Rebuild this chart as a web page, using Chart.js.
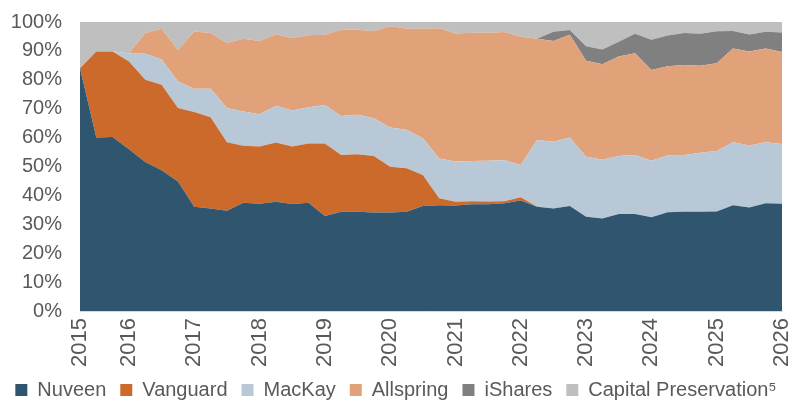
<!DOCTYPE html>
<html>
<head>
<meta charset="utf-8">
<script src="https://cdn.jsdelivr.net/npm/chart.js@4.4.1/dist/chart.umd.min.js"></script>
<style>
  html, body { margin: 0; padding: 0; background: #ffffff; }
  #wrap { width: 792px; height: 400px; position: relative; }
</style>
</head>
<body>
<div id="wrap"><canvas id="c" width="792" height="400"></canvas></div>
<script>
// Quarter-end categories
const quarters = [
  'Q1 2015','Q2 2015','Q3 2015','Q4 2015',
  'Q1 2016','Q2 2016','Q3 2016','Q4 2016',
  'Q1 2017','Q2 2017','Q3 2017','Q4 2017',
  'Q1 2018','Q2 2018','Q3 2018','Q4 2018',
  'Q1 2019','Q2 2019','Q3 2019','Q4 2019',
  'Q1 2020','Q2 2020','Q3 2020','Q4 2020',
  'Q1 2021','Q2 2021','Q3 2021','Q4 2021',
  'Q1 2022','Q2 2022','Q3 2022','Q4 2022',
  'Q1 2023','Q2 2023','Q3 2023','Q4 2023',
  'Q1 2024','Q2 2024','Q3 2024','Q4 2024',
  'Q1 2025','Q2 2025','Q3 2025','Q4 2025'
];
// Year tick labels and the category index where each is shown
const yearTicks = ['2015','2016','2017','2018','2019','2020','2021','2022','2023','2024','2025','2026'];
const yearTickIndex = [0,3,7,11,15,19,23,27,31,35,39,43];

// Shares (%) per manager
const nuveen = [84.0,60.0,60.2,56.0,51.6,48.7,44.8,36.1,35.5,34.7,37.5,37.1,37.8,37.0,37.5,32.9,34.3,34.3,34.1,34.1,34.3,36.3,36.6,36.5,36.9,36.9,37.3,38.2,36.1,35.5,36.3,32.6,32.0,33.6,33.6,32.4,34.2,34.3,34.3,34.4,36.6,35.8,37.3,37.1];
const vanguard = [0,29.8,29.6,30.3,28.4,29.6,25.4,32.8,31.5,23.7,19.7,19.8,20.5,19.9,20.5,25.1,19.7,19.9,19.5,15.8,15.1,10.8,2.4,1.3,1.1,1.0,0.7,1.2,0,0,0,0,0,0,0,0,0,0,0,0,0,0,0,0];
const mackay = [0,0,0,2.9,9.0,8.7,9.2,8.0,9.9,11.8,11.8,11.2,12.7,12.5,12.5,13.3,13.5,13.7,13.1,13.6,13.3,12.7,13.8,13.9,13.9,14.1,14.2,11.1,23.1,23.1,23.7,20.8,20.3,20.0,20.4,19.6,19.7,19.7,20.5,21.0,21.8,21.5,21.1,20.7];
const allspring = [0,0,0,0,7.2,10.7,10.9,19.8,19.3,22.5,25.2,25.3,24.8,25.1,24.9,24.3,29.8,29.4,30.1,35.0,35.0,37.9,45.0,44.3,44.4,44.3,44.3,44.4,35.0,34.8,35.6,33.2,33.1,34.5,35.2,31.4,30.8,31.1,30.1,30.3,32.4,32.5,32.4,31.8];
const ishares = [0,0,0,0,0,0,0,0,0,0,0,0,0,0,0,0,0,0,0,0,0,0,0,0,0,0,0,0,0,3.2,1.6,5.0,5.1,5.1,6.7,10.5,10.6,11.1,11.0,11.1,6.1,5.9,5.8,6.8];
const capitalPreservation = [16.0,10.2,10.2,10.8,3.8,2.3,9.7,3.3,3.8,7.3,5.8,6.6,4.2,5.5,4.6,4.4,2.7,2.7,3.2,1.5,2.3,2.3,2.2,4.0,3.7,3.7,3.5,5.1,5.8,3.4,2.8,8.4,9.5,6.8,4.1,6.1,4.7,3.8,4.1,3.2,3.1,4.3,3.4,3.6];

const seriesNames = ['Nuveen','Vanguard','MacKay','Allspring','iShares','Capital Preservation\u2075'];
const seriesData = [nuveen, vanguard, mackay, allspring, ishares, capitalPreservation];
const seriesColors = ['#30566F','#CC6A2C','#B8C8D6','#E1A27A','#808080','#BFBFBF'];

const FONT = "'Liberation Sans', Arial, sans-serif";
const TXT = '#595959';

const datasets = seriesNames.map((n, i) => ({
  label: n,
  data: seriesData[i],
  backgroundColor: seriesColors[i],
  borderColor: seriesColors[i],
  borderWidth: 0,
  pointRadius: 0,
  pointHoverRadius: 0,
  tension: 0,
  fill: i === 0 ? 'origin' : '-1'
}));

const legendHeightPlugin = {
  id: 'legendHeight',
  beforeInit(chart) {
    const lg = chart.legend;
    if (lg) {
      const orig = lg.fit.bind(lg);
      lg.fit = function () { orig(); this.height = 34; };
    }
  }
};

new Chart(document.getElementById('c'), {
  type: 'line',
  data: { labels: quarters, datasets },
  plugins: [legendHeightPlugin],
  options: {
    responsive: false,
    animation: false,
    layout: { padding: { left: 0, right: 0, top: 22, bottom: 0 } },
    plugins: {
      tooltip: { enabled: false },
      legend: {
        position: 'bottom',
        labels: {
          font: { family: FONT, size: 20 },
          color: TXT,
          boxWidth: 12,
          boxHeight: 12,
          padding: 14
        }
      }
    },
    scales: {
      x: {
        type: 'category',
        offset: false,
        grid: { display: false, drawTicks: false },
        border: { display: true, color: '#D9D9D9', width: 1 },
        ticks: {
          autoSkip: false,
          maxRotation: 90,
          minRotation: 90,
          padding: 7,
          color: TXT,
          font: { family: FONT, size: 22 },
          callback: function (v, idx) {
            const k = yearTickIndex.indexOf(idx);
            return k >= 0 ? yearTicks[k] : '';
          }
        },
        afterFit(s) { s.height = 55; s.paddingLeft = 0; s.paddingRight = 10; }
      },
      y: {
        stacked: true,
        min: 0,
        max: 100,
        grid: { display: false, drawTicks: false },
        border: { display: false },
        ticks: {
          stepSize: 10,
          padding: 18,
          color: TXT,
          font: { family: FONT, size: 20 },
          callback: v => v + '%'
        },
        afterFit(s) { s.width = 80; s.paddingTop = 0; s.paddingBottom = 0; }
      }
    }
  }
});
</script>
</body>
</html>
